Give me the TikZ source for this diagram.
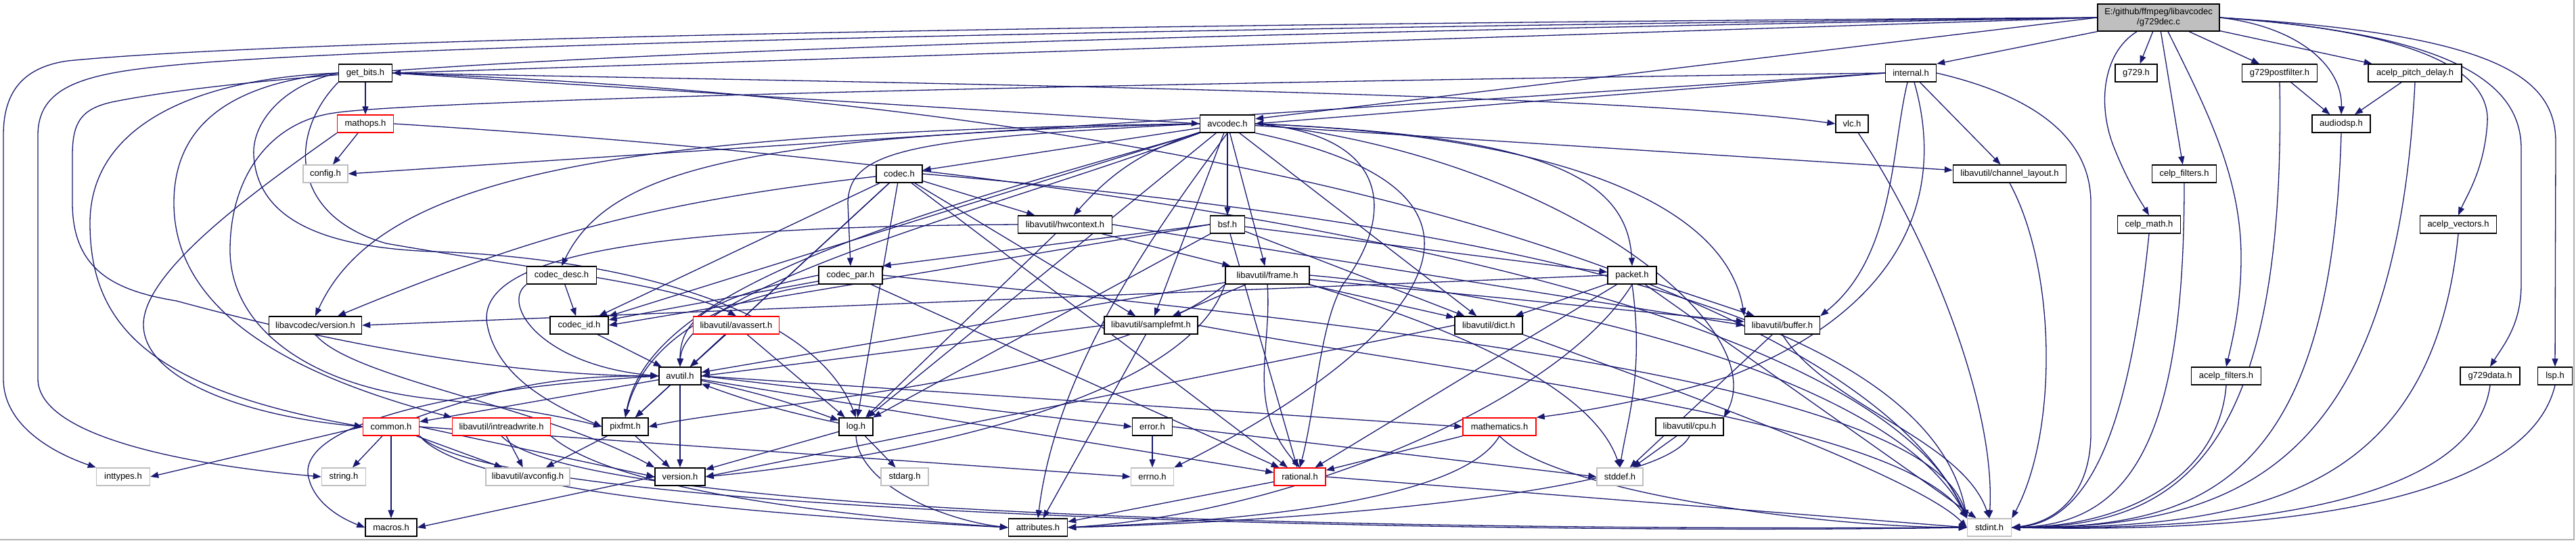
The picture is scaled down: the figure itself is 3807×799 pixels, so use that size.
\documentclass[tikz,border=0pt]{standalone}
\usepackage{fontspec}
\setmainfont{Liberation Sans}
\usetikzlibrary{arrows.meta,calc}
\definecolor{edgeblue}{RGB}{25,25,112}
\definecolor{greyline}{RGB}{191,191,191}
\definecolor{rootfill}{RGB}{191,191,191}
\definecolor{redline}{RGB}{255,0,0}
\newcommand\dgfont{\fontsize{6.5}{7.5}\selectfont}
\pgfdeclarelayer{bg}
\pgfdeclarelayer{paper}
\pgfsetlayers{paper,bg,main}
\tikzset{
  nb/.style={draw=black, line width=0.7pt, fill=white, minimum height=13pt, inner sep=0pt, font=\dgfont},
  ng/.style={nb, draw=greyline},
  nr/.style={nb, draw=redline},
  e/.style={draw=edgeblue, line width=0.65pt, -{Triangle[length=6pt,width=4.5pt]}},
}
\begin{document}
\begin{tikzpicture}[x=0.5pt,y=-0.5pt]
\useasboundingbox (0,0) rectangle (3807,799);
\begin{pgfonlayer}{paper}
\fill[white] (0,0) rectangle (3807,799);
\draw[gray!60, line width=1pt] (0,798) -- (3804,798) -- (3804,0);
\end{pgfonlayer}
% nodes
\node[nb, fill=rootfill, minimum width=90pt, minimum height=20pt, align=center] (root) at (3190,26) {E:/github/ffmpeg/libavcodec\\/g729dec.c};
\node[nb, minimum width=39.5pt] (getbits) at (540,108) {get\_bits.h};
\node[nr, minimum width=41.5pt] (mathops) at (540,183) {mathops.h};
\node[ng, minimum width=33pt] (config) at (481,257) {config.h};
\node[nb, minimum width=40.5pt] (avcodec) at (1814,183) {avcodec.h};
\node[nb, minimum width=34pt] (codec) at (1329,257) {codec.h};
\node[nb, minimum width=69.5pt] (hwctx) at (1574,332) {libavutil/hwcontext.h};
\node[nb, minimum width=25.5pt] (bsf) at (1814,332) {bsf.h};
\node[nb, minimum width=51.5pt] (codecdesc) at (830,407) {codec\_desc.h};
\node[nb, minimum width=47pt] (codecpar) at (1257,407) {codec\_par.h};
\node[nb, minimum width=62pt] (frame) at (1873,407) {libavutil/frame.h};
\node[nb, minimum width=36pt] (packet) at (2412,407) {packet.h};
\node[nb, minimum width=37.5pt] (internal) at (2824,108) {internal.h};
\node[nb, minimum width=31pt] (g729) at (3157,108) {g729.h};
\node[nb, minimum width=24pt] (vlc) at (2737,183) {vlc.h};
\node[nb, minimum width=83.5pt] (chlay) at (2970,257) {libavutil/channel\_layout.h};
\node[nb, minimum width=46.5pt] (celpmath) at (3176,332) {celp\_math.h};
\node[nb, minimum width=47.5pt] (celpfilt) at (3228,257) {celp\_filters.h};
\node[nb, minimum width=55.5pt] (g729post) at (3369,108) {g729postfilter.h};
\node[nb, minimum width=69pt] (apitch) at (3569,108) {acelp\_pitch\_delay.h};
\node[nb, minimum width=43pt] (audiodsp) at (3460,183) {audiodsp.h};
\node[nb, minimum width=56.5pt] (avec) at (3633,332) {acelp\_vectors.h};
\node[nb, minimum width=51.5pt] (afilt) at (3290,556) {acelp\_filters.h};
\node[nb, minimum width=44pt] (g729data) at (3680,556) {g729data.h};
\node[nb, minimum width=25.5pt] (lsp) at (3776,556) {lsp.h};
\node[nb, minimum width=68.5pt] (lcver) at (466,481) {libavcodec/version.h};
\node[nr, minimum width=41.5pt] (common) at (578,631) {common.h};
\node[ng, minimum width=39.5pt] (inttypes) at (182,705) {inttypes.h};
\node[ng, minimum width=32.5pt] (string) at (508,705) {string.h};
\node[nb, minimum width=38pt] (macros) at (578,780) {macros.h};
\node[nb, minimum width=43pt] (codecid) at (856,481) {codec\_id.h};
\node[nr, minimum width=63.5pt] (avassert) at (1088,481) {libavutil/avassert.h};
\node[nb, minimum width=31pt] (avutil) at (1005,556) {avutil.h};
\node[nr, minimum width=72.5pt] (irw) at (741,631) {libavutil/intreadwrite.h};
\node[nb, minimum width=34pt] (pixfmt) at (924,631) {pixfmt.h};
\node[nb, minimum width=25pt] (log) at (1265,631) {log.h};
\node[ng, minimum width=62pt] (avconfig) at (780,705) {libavutil/avconfig.h};
\node[nb, minimum width=37pt] (version) at (1005,705) {version.h};
\node[nb, minimum width=69pt] (sfmt) at (1701,481) {libavutil/samplefmt.h};
\node[nb, minimum width=29.5pt] (error) at (1703,631) {error.h};
\node[ng, minimum width=35pt] (stdarg) at (1337,705) {stdarg.h};
\node[ng, minimum width=31.5pt] (errno) at (1703,705) {errno.h};
\node[nr, minimum width=38pt] (rational) at (1921,705) {rational.h};
\node[nb, minimum width=43.5pt] (attr) at (1534,780) {attributes.h};
\node[nb, minimum width=50pt] (dict) at (2200,481) {libavutil/dict.h};
\node[nr, minimum width=54pt] (math) at (2216,631) {mathematics.h};
\node[nb, minimum width=50pt] (cpu) at (2497,631) {libavutil/cpu.h};
\node[ng, minimum width=34pt] (stddef) at (2394,705) {stddef.h};
\node[nb, minimum width=55.5pt] (buffer) at (2634,481) {libavutil/buffer.h};
\node[ng, minimum width=32.5pt] (stdint) at (2940,780) {stdint.h};
\begin{pgfonlayer}{bg}
% root
\draw[e] (root.west) .. controls (1500,36) and (400,60) .. (100,90) .. controls (30,100) and (5,140) .. (5,200) -- (5,560) .. controls (5,630) and (80,670) .. (inttypes.north west);
\draw[e] (root.west) .. controls (1500,45) and (500,70) .. (240,98) .. controls (120,110) and (56,130) .. (56,200) -- (56,560) .. controls (56,650) and (300,690) .. (string.west);
\draw[e] (root.west) .. controls (1500,55) and (500,85) .. (170,150) .. controls (120,160) and (107,180) .. (107,230) -- (107,300) .. controls (107,400) and (170,430) .. (261,445) .. controls (500,510) and (750,555) .. (avutil.west);
\draw[e] (root.west) -- (getbits.east);
\draw[e] (root.west) -- (avcodec.10);
\draw[e] (root.south west) -- (internal.north east);
\draw[e] (root) -- (g729);
\draw[e] ($(root.south)+(-32,0)$) .. controls (3105,80) and (3100,160) .. (3125,220) .. controls (3145,270) and (3165,300) .. (celpmath.north);
\draw[e] (root) -- (celpfilt);
\draw[e] (root) -- (g729post);
\draw[e] (root) -- (apitch);
\draw[e] (root.east) .. controls (3400,40) and (3462,100) .. (audiodsp.north);
\draw[e] (root.east) .. controls (3560,45) and (3680,100) .. (3676,180) .. controls (3672,250) and (3645,290) .. (avec.north);
\draw[e] ($(root.south)+(14,0)$) .. controls (3260,160) and (3312,260) .. (3312,380) .. controls (3312,450) and (3300,500) .. (afilt.north);
\draw[e] (root.east) .. controls (3620,50) and (3726,120) .. (3726,220) -- (3726,420) .. controls (3726,480) and (3700,510) .. (g729data.north);
\draw[e] (root.east) .. controls (3680,50) and (3777,110) .. (3777,210) -- (lsp.north);
% get_bits
\draw[e] (getbits.east) -- (avcodec.west);
\draw[e] (getbits) -- (mathops);
\draw[e] (getbits.east) .. controls (1500,125) and (2400,140) .. (vlc.west);
\draw[e] (getbits.east) .. controls (1800,150) and (2750,420) .. (stdint.north west);
\draw[e] (getbits.west) .. controls (300,115) and (133,180) .. (133,330) .. controls (133,480) and (220,575) .. (common.west);
\draw[e] (getbits.west) .. controls (320,125) and (257,200) .. (257,300) .. controls (257,470) and (450,560) .. (irw.north west);
\draw[e] (getbits.west) .. controls (420,125) and (372,180) .. (375,230) .. controls (380,310) and (450,365) .. (640,372) .. controls (900,380) and (1200,450) .. (log.north);
\draw[e] (getbits.south west) .. controls (424,200) and (430,320) .. (571,360) .. controls (800,400) and (1000,420) .. (avassert.north);
% mathops
\draw[e] (mathops) -- (config);
\draw[e] (mathops.south west) .. controls (380,280) and (212,400) .. (212,480) .. controls (212,560) and (360,615) .. (common.west);
\draw[e] (mathops.east) .. controls (1500,240) and (2750,400) .. (stdint.north west);
% avcodec
\draw[e] (avcodec) -- (codec);
\draw[e] (avcodec) to[bend right=15] (hwctx);
\draw[e] (avcodec) -- (bsf);
\draw[e] (avcodec.west) .. controls (1350,205) and (1255,220) .. (1253,300) -- (codecpar.north);
\draw[e] (avcodec.west) .. controls (1100,200) and (900,250) .. (codecdesc.north);
\draw[e] (avcodec) -- (codecid);
\draw[e] (avcodec.west) .. controls (900,195) and (560,260) .. (lcver.north);
\draw[e] (avcodec.south west) .. controls (1500,300) and (1010,420) .. (avutil.north);
\draw[e] (avcodec) -- (log);
\draw[e] (avcodec.south west) .. controls (1300,330) and (960,430) .. (pixfmt.north);
\draw[e] (avcodec) -- (sfmt);
\draw[e] (avcodec.south) .. controls (1700,350) and (1560,550) .. (attr.north);
\draw[e] (avcodec.south east) .. controls (2350,300) and (2000,560) .. (errno.north east);
\draw[e] (avcodec.east) .. controls (2300,200) and (2550,300) .. (buffer.north west);
\draw[e] (avcodec.east) .. controls (2300,230) and (2620,480) .. (cpu.north east);
\draw[e] (avcodec) -- (chlay);
\draw[e] (avcodec) -- (dict);
\draw[e] (avcodec) -- (frame);
\draw[e] (avcodec.east) .. controls (2250,200) and (2405,250) .. (packet.north);
\draw[e] (avcodec.east) .. controls (2060,200) and (2060,320) .. (1985,420) .. controls (1950,480) and (1945,600) .. (rational.north);
% internal
\draw[e] (internal.west) -- (avcodec.east);
\draw[e] (internal.west) -- (config.east);
\draw[e] (internal.west) .. controls (1500,125) and (600,150) .. (494,167) .. controls (400,180) and (340,260) .. (340,370) .. controls (340,480) and (450,570) .. (640,590) .. controls (750,600) and (850,620) .. (pixfmt.west);
\draw[e] (internal) -- (chlay);
\draw[e] ($(internal.south)+(-5,0)$) .. controls (2795,220) and (2800,380) .. (buffer.north east);
\draw[e] ($(internal.south)+(5,0)$) .. controls (2880,300) and (2800,460) .. (2560,555) .. controls (2450,590) and (2330,610) .. (math.north east);
\draw[e] (internal.east) .. controls (3000,140) and (3090,200) .. (3090,300) -- (3090,640) .. controls (3090,730) and (3040,772) .. (stdint.east);
% codec
\draw[e] (codec) -- (hwctx);
\draw[e] (codec) to[bend right=8] (lcver);
\draw[e] (codec) -- (codecid);
\draw[e] (codec) -- (avutil);
\draw[e] (codec) -- (log);
\draw[e] (codec) -- (pixfmt);
\draw[e] (codec) -- (rational);
\draw[e] (codec) -- (sfmt);
\draw[e] (codec.east) .. controls (2200,330) and (2850,460) .. (stdint.north west);
% codec_desc, codec_id, codec_par
\draw[e] (codecdesc) -- (codecid);
\draw[e] (codecdesc.south west) .. controls (740,450) and (800,540) .. (avutil.west);
\draw[e] (codecid) -- (avutil);
\draw[e] (codecpar) -- (codecid);
\draw[e] (codecpar.west) .. controls (1050,440) and (1005,470) .. (avutil.north);
\draw[e] (codecpar.south west) .. controls (1000,450) and (940,550) .. (pixfmt.north);
\draw[e] (codecpar) -- (rational);
\draw[e] (codecpar.east) .. controls (2000,480) and (2850,560) .. (stdint.north west);
% bsf
\draw[e] (bsf) -- (dict);
\draw[e] (bsf) -- (log);
\draw[e] (bsf) -- (rational);
\draw[e] (bsf.west) -- (codecid.east);
\draw[e] (bsf.west) -- (codecpar.north east);
\draw[e] (bsf) -- (packet);
% packet
\draw[e] (packet.south) .. controls (2430,550) and (2405,620) .. (stddef.north);
\draw[e] (packet) -- (stdint);
\draw[e] (packet.south) .. controls (2300,600) and (1900,760) .. (attr.east);
\draw[e] (packet) -- (buffer);
\draw[e] (packet) -- (dict);
\draw[e] (packet) -- (rational);
\draw[e] (packet.west) -- (lcver.east);
% hwcontext
\draw[e] (hwctx.east) -- (buffer.west);
\draw[e] (hwctx) -- (frame);
\draw[e] (hwctx) -- (log);
\draw[e] (hwctx.west) .. controls (1000,335) and (700,370) .. (720,480) .. controls (735,560) and (820,600) .. (pixfmt.west);
% frame
\draw[e] (frame.south east) .. controls (2100,470) and (2350,560) .. (stddef.north);
\draw[e] (frame.east) .. controls (2300,440) and (2800,560) .. (stdint.north west);
\draw[e] (frame) -- (avutil);
\draw[e] (frame) -- (buffer);
\draw[e] (frame) -- (dict);
\draw[e] (frame.south) .. controls (1880,520) and (1840,600) .. (rational.north);
\draw[e] (frame) -- (sfmt);
\draw[e] (frame.south west) .. controls (1650,560) and (1100,600) .. (pixfmt.east);
\draw[e] (frame.south west) .. controls (1750,600) and (1300,680) .. (version.east);
% samplefmt, dict, buffer, cpu, channel_layout
\draw[e] (sfmt.east) .. controls (2200,560) and (2800,620) .. (stdint.north west);
\draw[e] (sfmt.west) -- (avutil.east);
\draw[e] (sfmt) -- (attr);
\draw[e] (dict.south east) .. controls (2600,620) and (2850,720) .. (stdint.west);
\draw[e] (dict.west) -- (version.east);
\draw[e] (buffer) -- (stddef);
\draw[e] (buffer.south) .. controls (2700,600) and (2900,650) .. (stdint.north);
\draw[e] (cpu) -- (stddef);
\draw[e] (cpu.south) .. controls (2450,740) and (1800,775) .. (attr.east);
\draw[e] (chlay.south) .. controls (3040,400) and (3041,640) .. (stdint.north east);
% avassert
\draw[e] (avassert) -- (avutil);
\draw[e] (avassert) -- (log);
% avutil
\draw[e] (avutil) -- (common);
\draw[e] (avutil.east) -- (error.west);
\draw[e] (avutil) -- (rational);
\draw[e] (avutil) -- (version);
\draw[e] (avutil.west) .. controls (650,575) and (450,630) .. (455,700) .. controls (460,740) and (500,765) .. (macros.west);
\draw[e] (avutil.east) -- (math.west);
\draw[e] (avutil) to[bend left=4] (log);
\draw[e] (avutil) -- (pixfmt);
% common
\draw[e] (common.west) -- (inttypes.east);
\draw[e] (common) -- (string);
\draw[e] (common) -- (macros);
\draw[e] (common) -- (avconfig);
\draw[e] (common.east) -- (version.west);
\draw[e] (common.south east) .. controls (700,740) and (1300,770) .. (attr.west);
\draw[e] (common.south east) .. controls (750,770) and (2300,790) .. (stdint.west);
\draw[e] (common.east) -- (errno.west);
\draw[e] (common) to[bend left=10] (avutil);
% log
\draw[e] (log) -- (stdarg);
\draw[e] (log.south) .. controls (1270,720) and (1400,770) .. (attr.west);
\draw[e] (log) -- (version);
\draw[e] (log) to[bend left=4] (avutil);
% pixfmt, intreadwrite
\draw[e] (pixfmt) -- (avconfig);
\draw[e] (pixfmt) -- (version);
\draw[e] (irw) -- (avconfig);
\draw[e] (irw.south east) .. controls (900,720) and (1200,760) .. (attr.west);
\draw[e] (irw.south) .. controls (850,760) and (2000,785) .. (stdint.west);
% error, mathematics, rational, version
\draw[e] (error) -- (errno);
\draw[e] (error.east) -- (stddef.west);
\draw[e] (math) -- (rational);
\draw[e] (math.south) .. controls (2150,760) and (1700,775) .. (attr.east);
\draw[e] (math.south) .. controls (2300,730) and (2700,780) .. (stdint.west);
\draw[e] (rational) -- (attr);
\draw[e] (rational.east) -- (stdint.west);
\draw[e] (version.west) -- (macros.east);
% vlc, libavcodec/version
\draw[e] (vlc) .. controls (2850,350) and (2950,600) .. (stdint.north);
\draw[e] (lcver.south) .. controls (520,560) and (800,600) .. (version.north west);
% right column
\draw[e] (g729post) -- (audiodsp);
\draw[e] (apitch) -- (audiodsp);
\draw[e] (celpmath.south) .. controls (3150,600) and (3100,770) .. (stdint.east);
\draw[e] (celpfilt.south) .. controls (3228,650) and (3150,775) .. (stdint.east);
\draw[e] (afilt.south) .. controls (3280,700) and (3150,778) .. (stdint.east);
\draw[e] (g729post.south) .. controls (3380,700) and (3200,778) .. (stdint.east);
\draw[e] (audiodsp.south) .. controls (3445,720) and (3250,780) .. (stdint.east);
\draw[e] (apitch.south) .. controls (3540,700) and (3300,780) .. (stdint.east);
\draw[e] (avec.south) .. controls (3596,720) and (3350,782) .. (stdint.east);
\draw[e] (g729data.south) .. controls (3660,720) and (3400,785) .. (stdint.east);
\draw[e] (lsp.south) .. controls (3740,720) and (3450,790) .. (stdint.east);
\end{pgfonlayer}
\end{tikzpicture}
\end{document}
